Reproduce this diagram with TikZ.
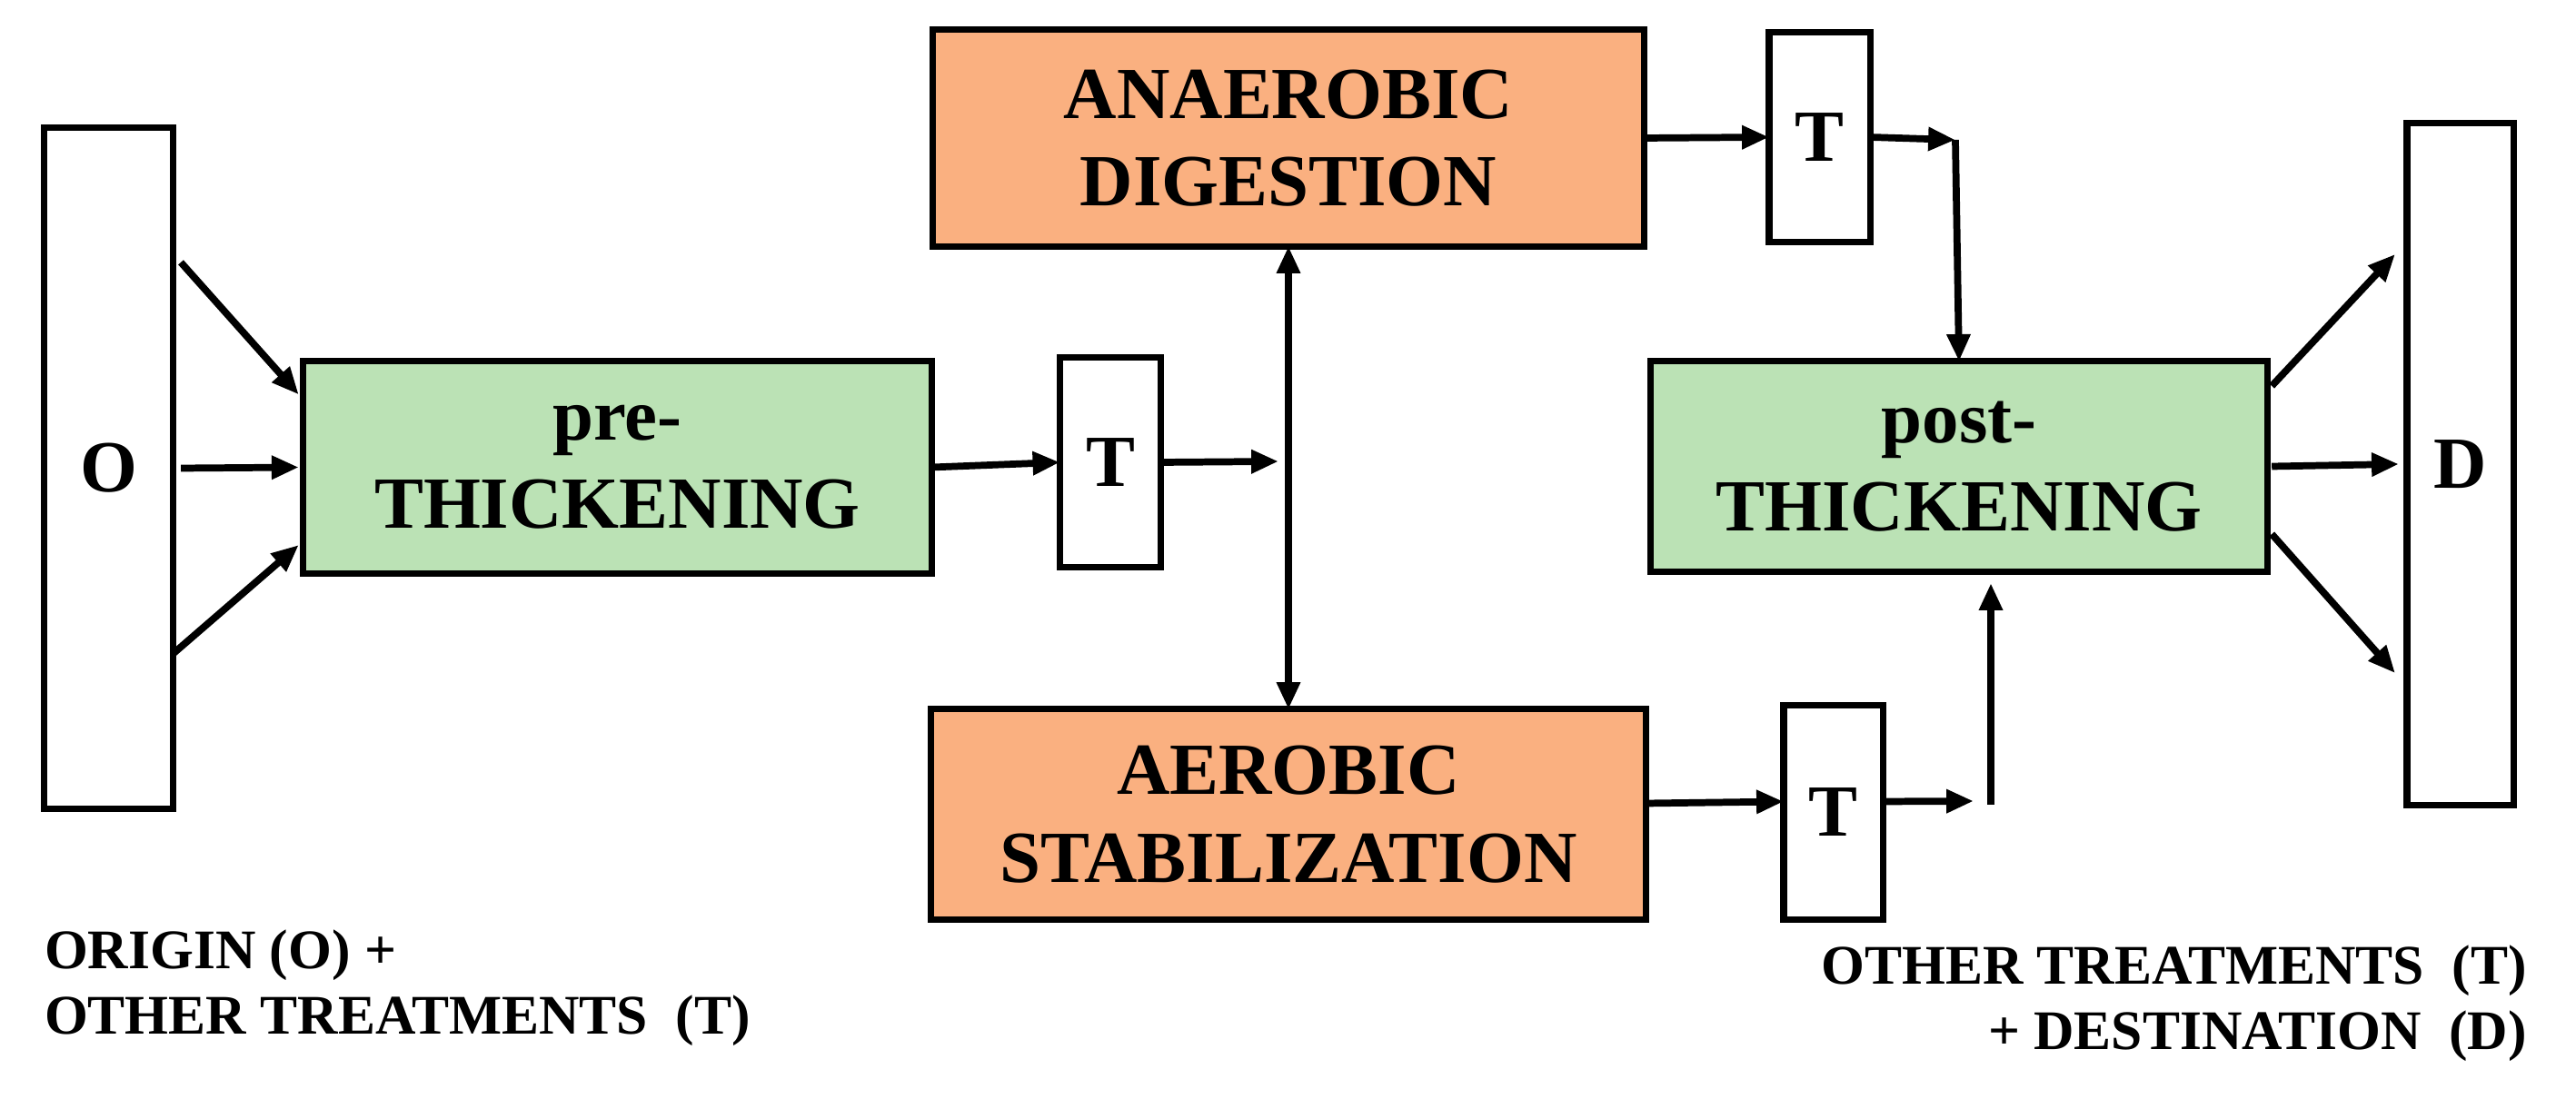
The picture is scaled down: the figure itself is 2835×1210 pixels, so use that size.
\documentclass[tikz,border=0pt]{standalone}
\usepackage{fontspec}
\setmainfont{Liberation Serif}
\usetikzlibrary{arrows.meta,calc}
\definecolor{boxgreen}{RGB}{187,226,181}
\definecolor{boxorange}{RGB}{250,176,128}
\begin{document}
\begin{tikzpicture}[x=0.01cm,y=-0.01cm,
  every node/.style={inner sep=0pt,outer sep=0pt},
  frame/.style={draw=black,line width=2pt,align=center,font=\bfseries\fontsize{23}{27.5}\selectfont},
  greenbox/.style={frame,fill=boxgreen},
  orangebox/.style={frame,fill=boxorange},
  tbox/.style={frame,fill=white,minimum width=1.11cm,minimum height=2.3cm},
  tallbox/.style={frame,fill=white,minimum height=7.5cm},
  arr/.style={line width=2.2pt,-{Triangle[length=8.5pt,width=7pt]}},
  darr/.style={line width=2.2pt,{Triangle[length=8.5pt,width=7pt]}-{Triangle[length=8.5pt,width=7pt]}},
  note/.style={font=\bfseries\fontsize{17.5}{20.5}\selectfont}]
\useasboundingbox (0,0) rectangle (2835,1210);
% boxes
\node[tallbox,minimum width=1.41cm] (O) at (119.5,515.5) {O};
\node[greenbox,minimum width=6.91cm,minimum height=2.33cm] (pre) at (679.5,514.5) {pre-\\THICKENING};
\node[tbox] (T1) at (1222,509) {T};
\node[orangebox,minimum width=7.83cm,minimum height=2.38cm] (AD) at (1418,152) {ANAEROBIC\\DIGESTION};
\node[orangebox,minimum width=7.87cm,minimum height=2.31cm] (AS) at (1418,896.5) {AEROBIC\\STABILIZATION};
\node[tbox] (T2) at (2002.5,151) {T};
\node[greenbox,minimum width=6.78cm,minimum height=2.31cm] (post) at (2156,513.5) {post-\\THICKENING};
\node[tbox,minimum width=1.09cm,minimum height=2.35cm] (T3) at (2017.5,894.5) {T};
\node[tallbox,minimum width=1.17cm] (D) at (2707.5,511) {D};
% free ends
\coordinate (J1) at (1407,508);
\coordinate (c1) at (2152,154);
\coordinate (c2) at (2172,882);
\coordinate (c3) at (2191,886);
% O -> pre
\draw[arr] ([xshift=0.09cm,yshift=2.265cm]O.east) -- ([xshift=-0.05cm,yshift=0.8cm]pre.west);
\draw[arr] ([xshift=0.09cm]O.east) -- ([xshift=-0.05cm]pre.west);
\draw[arr] ([yshift=-2.045cm]O.east) -- ([xshift=-0.05cm,yshift=-0.855cm]pre.west);
% pre -> T1 -> junction
\draw[arr] (pre.east) -- (T1.west);
\draw[arr] (T1.east) -- (J1);
% AD <-> AS
\draw[darr] (AD.south) -- (AS.north);
% AD -> T2 -> post
\draw[arr] (AD.east) -- (T2.west);
\draw[arr] (T2.east) -- (c1);
\draw[arr] (c1) -- (post.north);
% AS -> T3 -> post
\draw[arr] ([yshift=0.12cm]AS.east) -- ([yshift=0.12cm]T3.west);
\draw[arr] ([yshift=0.12cm]T3.east) -- (c2);
\draw[arr] (c3) -- ([xshift=0.35cm,yshift=-0.13cm]post.south);
% post -> D
\draw[arr] ([xshift=0.05cm,yshift=0.885cm]post.east) -- ([xshift=-0.13cm,yshift=2.31cm]D.west);
\draw[arr] ([xshift=0.05cm]post.east) -- ([xshift=-0.09cm]D.west);
\draw[arr] ([xshift=0.05cm,yshift=-0.745cm]post.east) -- ([xshift=-0.13cm,yshift=-2.3cm]D.west);
% notes
\node[note,anchor=west,align=left] (noteL) at (49,1088) {ORIGIN (O) +\\OTHER TREATMENTS\ \ (T)};
\node[note,anchor=east,align=right] (noteR) at (2781,1105) {OTHER TREATMENTS\ \ (T)\\+ DESTINATION\ \ (D)};
\end{tikzpicture}
\end{document}
